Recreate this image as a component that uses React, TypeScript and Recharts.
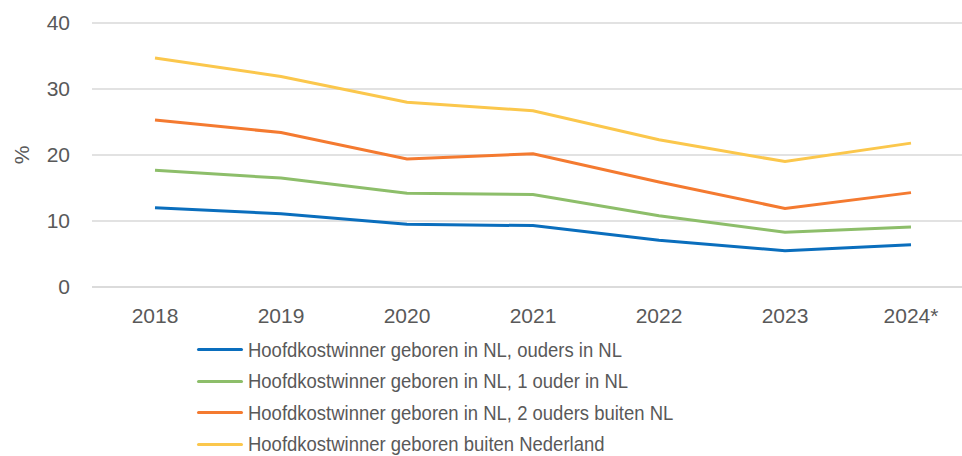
import React from "react";
import { LineChart, Line, XAxis, YAxis, CartesianGrid } from "recharts";

const years = ["2018", "2019", "2020", "2021", "2022", "2023", "2024*"];
const nlOudersNl = [12.0, 11.1, 9.5, 9.3, 7.1, 5.5, 6.4];
const nlEenOuderNl = [17.7, 16.5, 14.2, 14.0, 10.8, 8.3, 9.1];
const nlTweeOudersBuiten = [25.3, 23.4, 19.4, 20.2, 15.9, 11.9, 14.3];
const buitenNl = [34.7, 31.9, 28.0, 26.7, 22.3, 19.0, 21.8];
const yTicks = [0, 10, 20, 30, 40];

const SERIES = [
  { key: "a", name: "Hoofdkostwinner geboren in NL, ouders in NL", color: "#0A6EBD", values: nlOudersNl },
  { key: "b", name: "Hoofdkostwinner geboren in NL, 1 ouder in NL", color: "#8DBE6A", values: nlEenOuderNl },
  { key: "c", name: "Hoofdkostwinner geboren in NL, 2 ouders buiten NL", color: "#F47A30", values: nlTweeOudersBuiten },
  { key: "d", name: "Hoofdkostwinner geboren buiten Nederland", color: "#FBC74C", values: buitenNl },
];

const data = years.map((year, i) => {
  const row: Record<string, string | number> = { year };
  SERIES.forEach(s => { row[s.key] = s.values[i]; });
  return row;
});

const FONT = "'Liberation Sans', Arial, sans-serif";
const TEXT = "#595959";

export default function App() {
  return (
    <div style={{ position: "absolute", left: 0, top: 0, width: 962, height: 456,
      overflow: "hidden", background: "#fff", fontFamily: FONT }}>
      <LineChart width={980} height={456} data={data}
        margin={{ top: 23, right: 6, bottom: 129, left: 0 }}>
        <CartesianGrid vertical={false} stroke="#d9d9d9" strokeWidth={1.5} />
        <XAxis dataKey="year" axisLine={{ stroke: "#d9d9d9", strokeWidth: 1.5 }}
          tickLine={false} tickSize={0} tickMargin={21} height={40}
          padding={{ left: 63, right: 63 }} interval={0}
          tick={{ fontSize: 21, fill: TEXT, fontFamily: FONT }} />
        <YAxis domain={[0, 40]} ticks={yTicks} width={92} axisLine={false}
          tickLine={false} tickSize={0} tickMargin={22}
          tick={{ fontSize: 21, fill: TEXT, fontFamily: FONT }}
          label={{ value: "%", angle: -90, position: "center", dx: -24,
            style: { fontSize: 21, fill: TEXT, fontFamily: FONT } }} />
        {SERIES.map(s => (
          <Line key={s.key} dataKey={s.key} name={s.name} type="linear"
            stroke={s.color} strokeWidth={3} dot={false}
            isAnimationActive={false} />
        ))}
      </LineChart>
      <div style={{ position: "absolute", left: 197, top: 334 }}>
        {SERIES.map(s => (
          <div key={s.key} style={{ display: "flex", alignItems: "center",
            height: 31.5, fontSize: 21, color: TEXT, whiteSpace: "nowrap" }}>
            <span style={{ display: "inline-block", width: 46, height: 3,
              background: s.color, borderRadius: 2, marginRight: 5 }} />
            <span style={{ display: "inline-block", transform: "scaleX(0.88)",
              transformOrigin: "left center" }}>{s.name}</span>
          </div>
        ))}
      </div>
    </div>
  );
}
